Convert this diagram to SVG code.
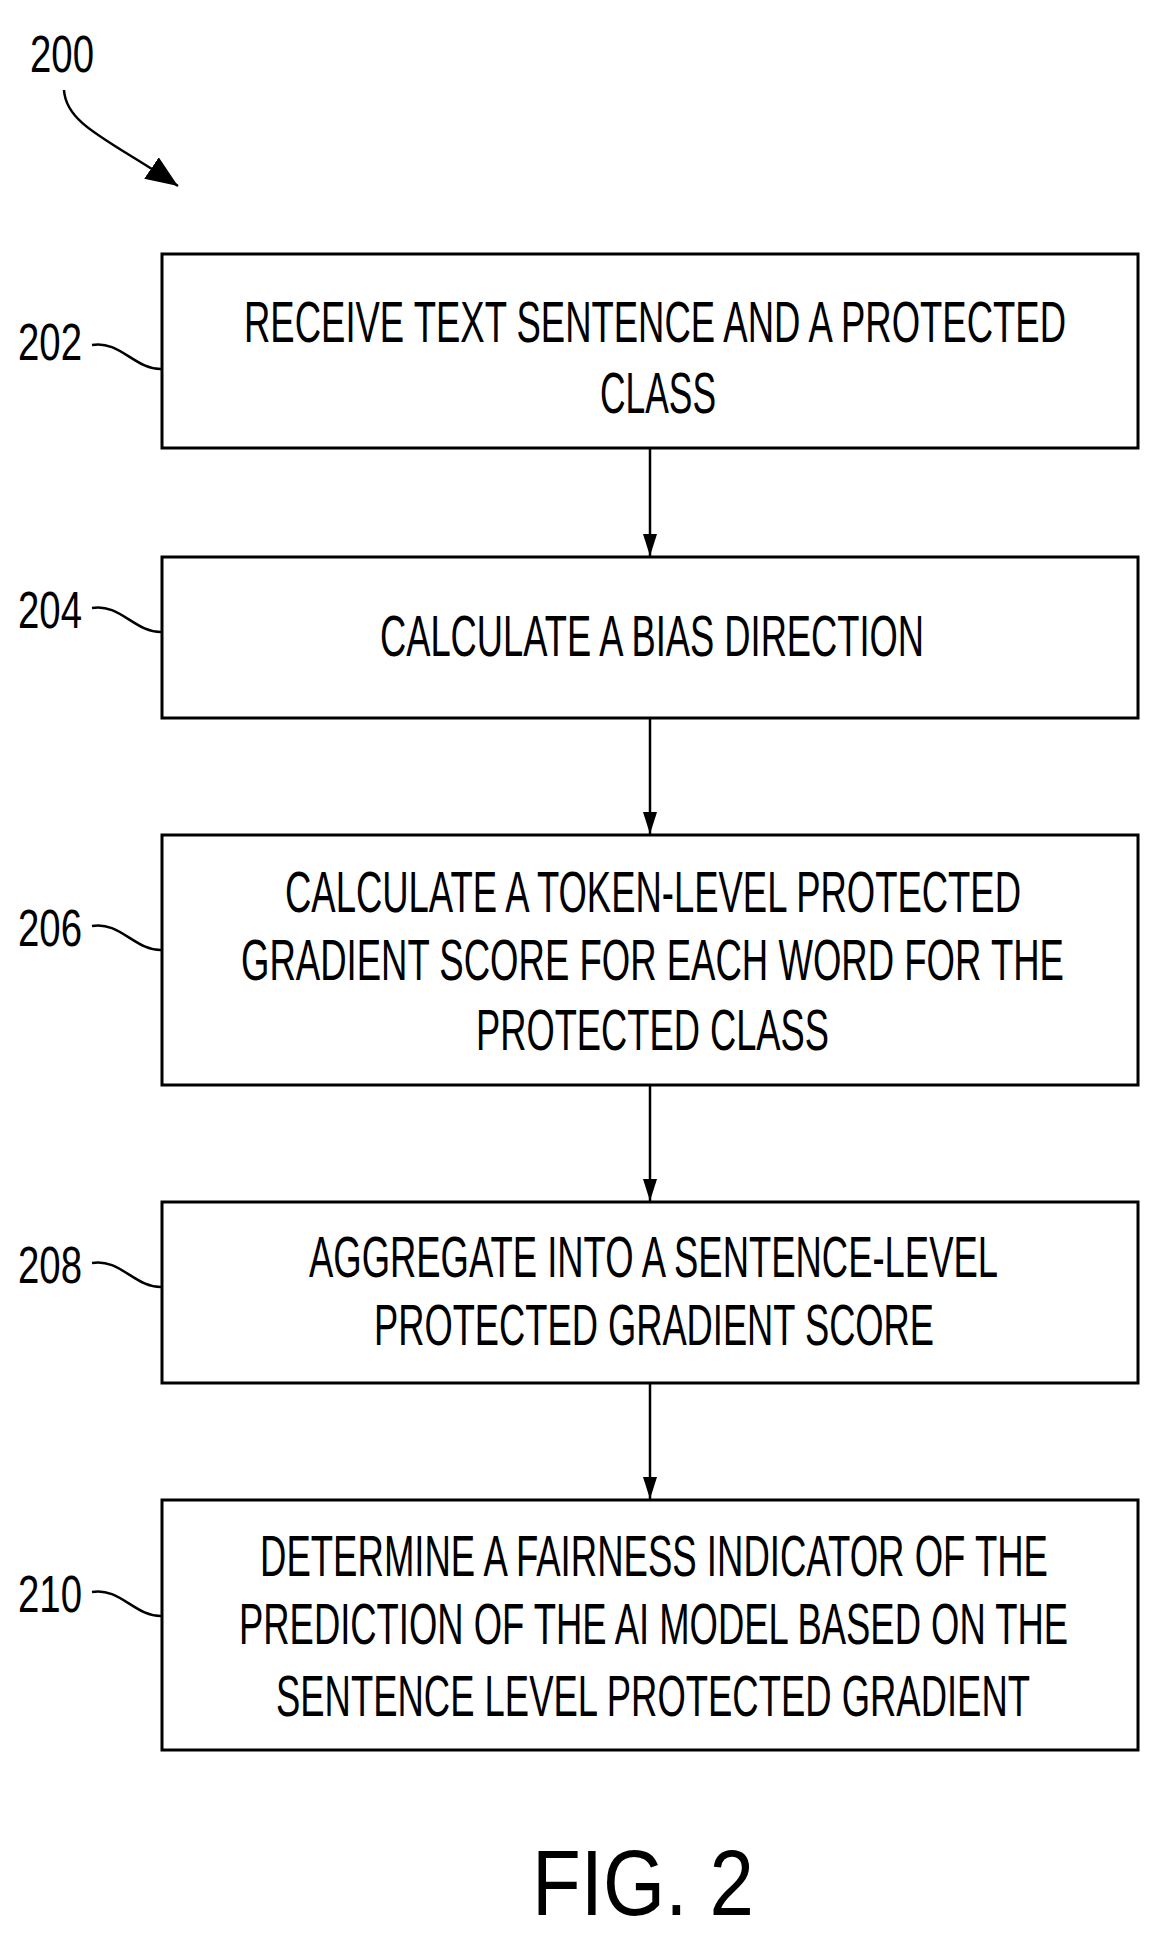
<svg xmlns="http://www.w3.org/2000/svg" width="1163" height="1943" viewBox="0 0 1163 1943">
<style>
.b{fill:#fff;stroke:#000;stroke-width:3}
.t{font-family:"Liberation Sans",Arial,sans-serif;font-size:58px;fill:#000}
.l{font-family:"Liberation Sans",Arial,sans-serif;font-size:52px;fill:#000}
.c{fill:none;stroke:#000;stroke-width:2.5}
</style>
<defs><marker id="a" markerWidth="22" markerHeight="14" refX="22" refY="7" orient="auto" markerUnits="userSpaceOnUse" viewBox="0 0 22 14"><path d="M0,0 L22,7 L0,14 Z" fill="#000"/></marker>
<marker id="a2" markerWidth="32" markerHeight="26" refX="32" refY="13" orient="auto" markerUnits="userSpaceOnUse" viewBox="0 0 32 26"><path d="M0,0 L32,13 L0,26 Z" fill="#000"/></marker></defs>
<rect width="1163" height="1943" fill="#fff"/>
<g id="n200"><text class="l" x="30" y="72" textLength="64" lengthAdjust="spacingAndGlyphs">200</text>
<path class="c" d="M64,90 C66,125 110,140 178,186" marker-end="url(#a2)"/></g>
<g id="n202"><rect class="b" x="162" y="254" width="976" height="194"/>
<text class="t" x="244" y="342" textLength="822" lengthAdjust="spacingAndGlyphs">RECEIVE TEXT SENTENCE AND A PROTECTED</text>
<text class="t" x="600" y="413" textLength="116" lengthAdjust="spacingAndGlyphs">CLASS</text>
<text class="l" x="18" y="360" textLength="64" lengthAdjust="spacingAndGlyphs">202</text>
<path class="c" d="M92,345 C120,340 135,370 162,369"/></g>
<g id="n204"><rect class="b" x="162" y="557" width="976" height="161"/>
<text class="t" x="380" y="656" textLength="544" lengthAdjust="spacingAndGlyphs">CALCULATE A BIAS DIRECTION</text>
<text class="l" x="18" y="628" textLength="64" lengthAdjust="spacingAndGlyphs">204</text>
<path class="c" d="M92,608 C120,603 135,633 162,632"/></g>
<g id="n206"><rect class="b" x="162" y="835" width="976" height="250"/>
<text class="t" x="285" y="912" textLength="736" lengthAdjust="spacingAndGlyphs">CALCULATE A TOKEN-LEVEL PROTECTED</text>
<text class="t" x="241" y="980" textLength="823" lengthAdjust="spacingAndGlyphs">GRADIENT SCORE FOR EACH WORD FOR THE</text>
<text class="t" x="476" y="1050" textLength="353" lengthAdjust="spacingAndGlyphs">PROTECTED CLASS</text>
<text class="l" x="18" y="946" textLength="64" lengthAdjust="spacingAndGlyphs">206</text>
<path class="c" d="M92,926 C120,921 135,951 162,950"/></g>
<g id="n208"><rect class="b" x="162" y="1202" width="976" height="181"/>
<text class="t" x="309" y="1277" textLength="689" lengthAdjust="spacingAndGlyphs">AGGREGATE INTO A SENTENCE-LEVEL</text>
<text class="t" x="374" y="1345" textLength="560" lengthAdjust="spacingAndGlyphs">PROTECTED GRADIENT SCORE</text>
<text class="l" x="18" y="1283" textLength="64" lengthAdjust="spacingAndGlyphs">208</text>
<path class="c" d="M92,1263 C120,1258 135,1288 162,1287"/></g>
<g id="n210"><rect class="b" x="162" y="1500" width="976" height="250"/>
<text class="t" x="260" y="1576" textLength="788" lengthAdjust="spacingAndGlyphs">DETERMINE A FAIRNESS INDICATOR OF THE</text>
<text class="t" x="239" y="1644" textLength="829" lengthAdjust="spacingAndGlyphs">PREDICTION OF THE AI MODEL BASED ON THE</text>
<text class="t" x="276" y="1716" textLength="754" lengthAdjust="spacingAndGlyphs">SENTENCE LEVEL PROTECTED GRADIENT</text>
<text class="l" x="18" y="1612" textLength="64" lengthAdjust="spacingAndGlyphs">210</text>
<path class="c" d="M92,1592 C120,1587 135,1617 162,1616"/></g>
<g id="connectors">
<line class="c" x1="650" y1="448" x2="650" y2="556" marker-end="url(#a)"/>
<line class="c" x1="650" y1="718" x2="650" y2="834" marker-end="url(#a)"/>
<line class="c" x1="650" y1="1085" x2="650" y2="1201" marker-end="url(#a)"/>
<line class="c" x1="650" y1="1383" x2="650" y2="1499" marker-end="url(#a)"/>
</g>
<text x="532" y="1915" textLength="222" lengthAdjust="spacingAndGlyphs" style="font-family:'Liberation Sans',Arial,sans-serif;font-size:92px">FIG. 2</text>
</svg>
